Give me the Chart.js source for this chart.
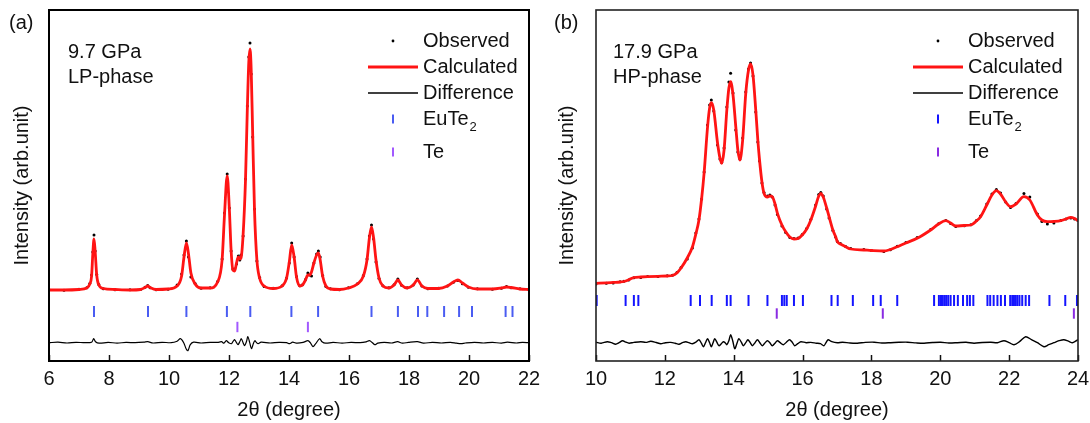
<!DOCTYPE html>
<html>
<head>
<meta charset="utf-8">
<title>EuTe2 Rietveld refinement</title>
<script src="https://cdn.jsdelivr.net/npm/chart.js@4.4.1/dist/chart.umd.min.js"></script>
<style>
  html, body { margin: 0; padding: 0; background: #fff; }
  .row { display: flex; width: 1090px; height: 423px; }
  .panel { width: 545px; height: 423px; }
</style>
</head>
<body>
<div class="row">
  <div class="panel"><canvas id="chartLP" width="545" height="423"></canvas></div>
  <div class="panel"><canvas id="chartHP" width="545" height="423"></canvas></div>
</div>
<script>
// ---- (a) 9.7 GPa, LP-phase ----
const twoThetaA = [
  6.00, 6.50, 7.00, 7.26, 7.36, 7.42, 7.46, 7.50, 7.54, 7.59,
  7.66, 7.81, 8.20, 8.70, 9.05, 9.20, 9.29, 9.37, 9.57, 9.97,
  10.27, 10.42, 10.50, 10.58, 10.65, 10.73, 10.87, 11.07, 11.37, 11.62,
  11.77, 11.85, 11.94, 12.01, 12.07, 12.13, 12.19, 12.25, 12.31, 12.36,
  12.40, 12.47, 12.55, 12.61, 12.66, 12.70, 12.74, 12.79, 12.85, 12.93,
  13.02, 13.17, 13.47, 13.77, 13.92, 14.01, 14.09, 14.17, 14.25, 14.36,
  14.45, 14.55, 14.63, 14.69, 14.75, 14.83, 14.92, 14.98, 15.04, 15.12,
  15.23, 15.38, 15.68, 15.98, 16.28, 16.48, 16.60, 16.68, 16.75, 16.82,
  16.90, 17.00, 17.13, 17.33, 17.50, 17.63, 17.75, 17.94, 18.14, 18.28,
  18.43, 18.63, 18.98, 19.28, 19.48, 19.63, 19.78, 19.98, 20.28, 20.78,
  21.08, 21.25, 21.40, 21.70, 22.00
];
const calcA = [
  0, 0, 0.5, 2, 6, 14, 36, 51, 38, 15,
  5, 1.5, 0.5, 0, 0.5, 2.5, 4, 2.5, 0.5, 1,
  4, 14, 33, 47, 36, 17, 6, 2, 2, 8,
  30, 75, 114, 82, 40, 20, 19, 27, 33, 31,
  32, 55, 110, 180, 228, 241, 220, 155, 80, 30,
  12, 4, 1.5, 4, 12, 28, 45, 33, 13, 4,
  5, 10, 15, 15, 18, 27, 35, 37, 30, 14,
  4, 1, 0.5, 2, 6, 14, 30, 52, 63, 52,
  30, 12, 4, 2, 5, 10, 5, 2, 5, 10,
  4, 1.5, 1.5, 4, 8, 10, 7, 3, 1, 1,
  2, 3, 2.5, 1, 0.5
];
const obsA = [
  0.3, -0.3, 0.8, 2.3, 6.5, 15, 38, 55, 39, 15.5,
  5.5, 1.3, 0.2, 0.3, 0.6, 2.8, 4.5, 2.3, 0.2, 0.8,
  5, 16, 35, 49, 33, 13, 6.5, 1.7, 2.3, 8.5,
  31, 77, 116, 82, 39, 21, 21, 26, 34, 30,
  35, 54, 111, 184, 233, 247, 216, 153, 81, 29,
  12.5, 3.5, 1.8, 4.2, 12, 27, 47, 33, 13.5, 4.2,
  5.3, 10.5, 17, 15, 14, 27, 36, 39, 33, 14.5,
  3.5, 1.3, 0.2, 2.3, 6.2, 14.5, 31, 54, 65, 51,
  28, 11.5, 4.2, 2.2, 5.3, 11, 4.8, 2.2, 5, 11,
  4, 1.2, 1.8, 4, 7.8, 9.5, 6.3, 2.8, 1.3, 0.8,
  1.8, 3.5, 2.3, 1.2, 0.6
];
const diffThetaA = [
  6.00, 6.30, 6.60, 6.90, 7.20, 7.42, 7.49, 7.55, 7.67, 7.97,
  8.27, 8.57, 8.87, 9.17, 9.29, 9.47, 9.77, 10.07, 10.27, 10.38,
  10.49, 10.57, 10.63, 10.71, 10.82, 11.07, 11.37, 11.62, 11.75, 11.83,
  11.91, 11.99, 12.08, 12.14, 12.19, 12.25, 12.30, 12.36, 12.41, 12.47,
  12.52, 12.58, 12.63, 12.69, 12.75, 12.81, 12.86, 12.92, 12.97, 13.07,
  13.37, 13.67, 13.92, 14.02, 14.12, 14.27, 14.47, 14.63, 14.71, 14.80,
  14.89, 15.02, 15.10, 15.22, 15.47, 15.77, 16.07, 16.37, 16.57, 16.68,
  16.78, 16.86, 16.96, 17.17, 17.42, 17.62, 17.78, 17.98, 18.28, 18.48,
  18.78, 19.08, 19.38, 19.58, 19.73, 19.88, 20.18, 20.48, 20.78, 21.08,
  21.28, 21.58, 21.78, 22.00
];
const diffA = [
  0, 0.5, -0.3, 0.4, 0, 0.5, 4, 1, -0.5, 0.3,
  -0.4, 0.3, 0, 0.5, 1, -0.3, 0.4, 0, 1.5, 4,
  0, -6, -8, -2, 0.5, -0.3, 0.4, 0.3, 1, -0.5,
  2, 0, -1, 1.5, 3, 0, -2, 1, 4, 0,
  -3, 1, 6, 0, -6, -1, 2, 0, -1, 0.5,
  -0.3, 0.4, 0, -1, 0.5, -0.5, 0.3, 2, 0, -4,
  -1, 4, 1, -0.5, 0.3, -0.4, 0.3, 0, 0.8, 2,
  0, -2, -0.5, 0.3, -0.3, 1, -0.5, 0.3, 1, -0.4,
  0.3, -0.3, 0.3, -0.5, -1, -0.3, 0.4, -0.3, 0.3, -0.4,
  0.5, -0.3, 0.4, 0
];
const euTe2PeaksA = [7.50, 9.30, 10.58, 11.93, 12.71, 14.08, 14.97, 16.75, 17.63, 18.30, 18.61, 19.17, 19.67, 20.10, 21.22, 21.45];
const tePeaksA = [12.28, 14.63];

// ---- (b) 17.9 GPa, HP-phase ----
const twoThetaB = [
  10.00, 10.30, 10.50, 10.70, 10.81, 10.95, 11.10, 11.30, 11.50, 11.80,
  12.07, 12.22, 12.35, 12.47, 12.65, 12.80, 12.90, 12.99, 13.07, 13.14,
  13.24, 13.30, 13.35, 13.42, 13.53, 13.60, 13.65, 13.72, 13.80, 13.86,
  13.91, 13.98, 14.06, 14.12, 14.18, 14.26, 14.35, 14.43, 14.49, 14.56,
  14.64, 14.70, 14.75, 14.82, 14.88, 14.98, 15.05, 15.12, 15.20, 15.27,
  15.40, 15.51, 15.63, 15.75, 15.87, 15.99, 16.12, 16.24, 16.38, 16.47,
  16.53, 16.60, 16.70, 16.77, 16.88, 16.96, 17.01, 17.10, 17.25, 17.40,
  17.78, 18.00, 18.36, 18.55, 18.75, 19.00, 19.33, 19.72, 19.95, 20.16,
  20.30, 20.45, 20.70, 20.89, 21.05, 21.17, 21.35, 21.50, 21.63, 21.75,
  21.90, 22.04, 22.20, 22.43, 22.60, 22.82, 22.95, 23.11, 23.30, 23.50,
  23.65, 23.79, 23.90, 24.00
];
const calcB = [
  6.7, 7.2, 7.6, 8.0, 8.5, 10.2, 12.5, 13.0, 13.3, 13.7,
  14.0, 14.5, 17, 22, 32, 43, 56, 70, 92, 117,
  163, 182, 187.3, 180, 147, 132, 126.7, 140, 180, 202,
  208.3, 195, 163.3, 140, 130, 150, 196.7, 220, 226, 215,
  180, 150, 130, 108, 96.7, 93, 94, 93.3, 86, 76.7,
  65, 58.3, 53, 51, 51.5, 55, 61, 70, 84, 94,
  96.7, 93, 82, 73.3, 60, 53.3, 48.3, 46, 43.3, 41,
  40, 39.5, 39, 40.5, 43.3, 47, 51.7, 60, 66, 69.3,
  67, 64, 64.5, 65, 69, 73.3, 85, 95, 99.3, 96,
  88, 83.3, 86, 93.3, 90, 75, 70, 68.3, 68.5, 69.3,
  71, 72.7, 71.5, 69.3
];
const obsB = [
  6.0, 6.8, 6.9, 8.3, 8.8, 10.0, 12.2, 12.6, 13.6, 13.5,
  14.3, 14.8, 17.5, 22.5, 31, 42, 57, 71, 91, 118,
  165, 185, 190, 179, 145, 131, 127.5, 142, 183, 208,
  216.7, 197, 160, 138, 131, 152, 198, 221, 227, 214,
  178, 148, 129, 107, 97.5, 94, 95, 93, 85, 75.5,
  64, 57.5, 52.5, 51.5, 52, 55.5, 61.5, 70.5, 85, 95.5,
  97.5, 94, 81, 72, 59.5, 53, 48.5, 46.5, 43.5, 41.5,
  40.5, 39.5, 38.5, 40.3, 43.8, 47.5, 52.5, 60.5, 66.3, 69.5,
  66.5, 63.5, 64.3, 65.3, 69.5, 74, 86, 96, 100.5, 97,
  88, 82.5, 86.5, 96.5, 93, 76, 68.5, 66, 67, 69.5,
  71, 72, 71, 69.5
];
const diffThetaB = [
  10.00, 10.15, 10.33, 10.45, 10.57, 10.67, 10.77, 10.87, 10.96, 11.10,
  11.30, 11.45, 11.59, 11.75, 11.88, 12.02, 12.17, 12.30, 12.41, 12.51,
  12.61, 12.70, 12.80, 12.90, 12.99, 13.06, 13.12, 13.18, 13.24, 13.30,
  13.35, 13.40, 13.45, 13.51, 13.57, 13.64, 13.70, 13.75, 13.80, 13.86,
  13.91, 13.97, 14.03, 14.09, 14.15, 14.22, 14.28, 14.35, 14.41, 14.48,
  14.54, 14.62, 14.69, 14.76, 14.83, 14.90, 14.98, 15.05, 15.12, 15.20,
  15.27, 15.35, 15.44, 15.53, 15.62, 15.70, 15.77, 15.86, 15.95, 16.10,
  16.24, 16.40, 16.52, 16.62, 16.68, 16.74, 16.85, 17.01, 17.16, 17.38,
  17.59, 17.82, 18.08, 18.30, 18.56, 18.80, 19.05, 19.30, 19.53, 19.78,
  20.01, 20.25, 20.50, 20.75, 20.98, 21.22, 21.47, 21.66, 21.85, 22.00,
  22.14, 22.30, 22.48, 22.65, 22.82, 23.01, 23.15, 23.30, 23.45, 23.59,
  23.72, 23.84, 23.93, 24.00
];
const diffB = [
  0.5, -0.5, 1, 0, -1.5, 0, 2, 0.5, -0.5, 0.3,
  1, 0.3, 1.5, 0.2, -1, 0, 0.3, -0.5, -1.5, 0,
  1, 0, -1, 0.5, 3, -0.5, -4, 0, 4, 0,
  -4, 0, 4, 0.5, -3, -1, 1, 0, -2, 2,
  8, 2, -6, -1, 4, 0.5, -3, 0, 3, 0,
  -3, 0, 3, 0, -3, -0.5, 2, 0, -3, -0.5,
  2, 0, -2, 0.5, 3, 0.5, -3, -1, 1, 0,
  0.3, -0.5, -1, -3, 0, 3, 1, 0, 0.5, -0.3,
  -0.5, 0.3, 0.5, -0.3, 0, 0.4, 0.5, -0.2, -0.5, 0.2,
  0.5, -0.3, 0, 0.4, -0.5, 0.2, 0.5, 0, 2, 0,
  -2, 1, 6, 3, 0, -4, -2, 0, 2, 3,
  1.5, 0, 1.5, 3
];
const euTe2PeaksB = [
  10.02, 10.86, 11.10, 11.23, 12.75, 13.02, 13.36, 13.80, 13.91, 14.43,
  14.98, 15.40, 15.47, 15.54, 15.75, 16.01, 16.84, 17.02, 17.46, 18.05,
  18.27, 18.75, 19.82, 19.96, 20.02, 20.07, 20.12, 20.17, 20.23, 20.30,
  20.40, 20.51, 20.66, 20.78, 20.86, 20.96, 21.37, 21.45, 21.55, 21.66,
  21.76, 21.88, 22.03, 22.09, 22.14, 22.19, 22.24, 22.30, 22.38, 22.48,
  22.58, 23.17, 23.63, 23.97
];
const tePeaksB = [15.25, 18.33, 23.88];

// difference curve sits below the reflection markers
const DIFF_OFFSET = -52.7;
const FONT = '"Liberation Sans", Arial, Helvetica, sans-serif';

Chart.defaults.font.family = FONT;
Chart.defaults.color = '#111';

function toPoints(xs, ys, offset = 0) {
  const n = Math.min(xs.length, ys.length);
  const out = [];
  for (let i = 0; i < n; i++) out.push({ x: xs[i], y: ys[i] + offset });
  return out;
}

function markerRow(xs, y) {
  return xs.map(x => ({ x: x, y: y }));
}

// frame, inward ticks, legend and labels drawn on top of the plot
const panelDecor = {
  id: 'panelDecor',
  afterDraw(chart, args, opts) {
    const { ctx, chartArea: a } = chart;
    const xScale = chart.scales.x;
    ctx.save();

    // inward ticks on the bottom axis
    ctx.strokeStyle = '#111';
    ctx.lineWidth = 1.5;
    xScale.ticks.forEach(t => {
      const px = Math.round(xScale.getPixelForValue(t.value)) + 0.5;
      ctx.beginPath();
      ctx.moveTo(px, a.bottom);
      ctx.lineTo(px, a.bottom - 6);
      ctx.stroke();
    });

    // box around the plot area
    ctx.lineWidth = opts.frameWidth;
    ctx.strokeStyle = opts.frameColor;
    ctx.strokeRect(a.left, a.top, a.right - a.left, a.bottom - a.top);

    ctx.fillStyle = '#111';
    ctx.textBaseline = 'middle';
    ctx.textAlign = 'left';
    ctx.font = `20px ${FONT}`;
    ctx.fillText(opts.letter, 9, 23);
    ctx.fillText(opts.pressure, 68, 52);
    ctx.fillText(opts.phase, 68, 77);

    // legend
    const symX = 393, textX = 423;
    const rows = [41, 67, 93, 119, 152];

    ctx.fillStyle = '#000';
    ctx.beginPath();
    ctx.arc(symX, rows[0], 1.4, 0, Math.PI * 2);
    ctx.fill();

    ctx.lineWidth = 2.8;
    ctx.strokeStyle = '#ff1414';
    ctx.beginPath();
    ctx.moveTo(368, rows[1]);
    ctx.lineTo(418, rows[1]);
    ctx.stroke();

    ctx.lineWidth = 1.3;
    ctx.strokeStyle = '#000';
    ctx.beginPath();
    ctx.moveTo(368, rows[2]);
    ctx.lineTo(418, rows[2]);
    ctx.stroke();

    ctx.lineWidth = 2;
    ctx.strokeStyle = opts.euColor;
    ctx.beginPath();
    ctx.moveTo(symX, rows[3] - 4.5);
    ctx.lineTo(symX, rows[3] + 4.5);
    ctx.stroke();

    ctx.strokeStyle = opts.teColor;
    ctx.beginPath();
    ctx.moveTo(symX, rows[4] - 4.5);
    ctx.lineTo(symX, rows[4] + 4.5);
    ctx.stroke();

    ctx.fillStyle = '#111';
    ctx.font = `20px ${FONT}`;
    ctx.fillText('Observed', textX, rows[0]);
    ctx.fillText('Calculated', textX, rows[1]);
    ctx.fillText('Difference', textX, rows[2]);
    ctx.fillText('EuTe', textX, rows[3]);
    const w = ctx.measureText('EuTe').width;
    ctx.fillText('Te', textX, rows[4]);
    ctx.font = `13px ${FONT}`;
    ctx.fillText('2', textX + w + 1, rows[3] + 8);

    ctx.restore();
  }
};

function makePanel(canvasId, cfg) {
  const ctx = document.getElementById(canvasId);
  return new Chart(ctx, {
    type: 'line',
    data: {
      datasets: [
        {
          label: 'Calculated',
          data: toPoints(cfg.theta, cfg.calc),
          borderColor: '#ff1414',
          borderWidth: 2.8,
          pointRadius: 0,
          cubicInterpolationMode: 'monotone',
          order: 0
        },
        {
          label: 'Observed',
          data: toPoints(cfg.theta, cfg.obs),
          showLine: false,
          pointRadius: 1.5,
          pointBackgroundColor: '#000',
          pointBorderWidth: 0,
          order: 1
        },
        {
          label: 'Difference',
          data: toPoints(cfg.diffTheta, cfg.diff, DIFF_OFFSET),
          borderColor: '#000',
          borderWidth: cfg.diffWidth,
          pointRadius: 0,
          tension: 0.3,
          order: 2
        },
        {
          label: 'EuTe2',
          data: markerRow(cfg.euTe2, cfg.euRow),
          showLine: false,
          pointStyle: 'line',
          pointRotation: 90,
          pointRadius: 5.5,
          pointBorderWidth: 2,
          pointBorderColor: cfg.euColor,
          borderColor: cfg.euColor,
          order: 3
        },
        {
          label: 'Te',
          data: markerRow(cfg.te, cfg.teRow),
          showLine: false,
          pointStyle: 'line',
          pointRotation: 90,
          pointRadius: 5.2,
          pointBorderWidth: 2,
          pointBorderColor: cfg.teColor,
          borderColor: cfg.teColor,
          order: 4
        }
      ]
    },
    options: {
      responsive: false,
      animation: false,
      layout: { padding: { top: 10, right: cfg.padRight, left: 0, bottom: 0 } },
      plugins: {
        legend: { display: false },
        tooltip: { enabled: false },
        panelDecor: {
          letter: cfg.letter,
          pressure: cfg.pressure,
          phase: cfg.phase,
          euColor: cfg.euColor,
          teColor: cfg.teColor,
          frameColor: cfg.frameColor,
          frameWidth: cfg.frameWidth
        }
      },
      scales: {
        x: {
          type: 'linear',
          min: cfg.xMin,
          max: cfg.xMax,
          ticks: { stepSize: 2, padding: 6, color: '#111', font: { size: 20, lineHeight: 1.2 } },
          grid: { display: false, drawTicks: false },
          border: { display: false },
          title: {
            display: true,
            text: '2θ (degree)',
            color: '#111',
            font: { size: 20, lineHeight: 1.2 },
            padding: { top: 0, bottom: 1 }
          },
          afterFit: (scale) => {
            scale.height = 62;
            scale.paddingLeft = 0;
            scale.paddingRight = 0;
          }
        },
        y: {
          min: -71,
          max: 280,
          ticks: { display: false },
          grid: { display: false, drawTicks: false },
          border: { display: false },
          title: {
            display: true,
            text: 'Intensity (arb.unit)',
            color: '#111',
            font: { size: 20, lineHeight: 1.2 },
            padding: { top: 10, bottom: 0 }
          },
          afterFit: (scale) => { scale.width = cfg.axisWidth; }
        }
      }
    },
    plugins: [panelDecor]
  });
}

makePanel('chartLP', {
  theta: twoThetaA, calc: calcA, obs: obsA,
  diffTheta: diffThetaA, diff: diffA, diffWidth: 1.2,
  euTe2: euTe2PeaksA, te: tePeaksA,
  euRow: -21.5, teRow: -37,
  euColor: '#4a5cf2', teColor: '#a259ff',
  xMin: 6, xMax: 22,
  axisWidth: 49, padRight: 16,
  frameColor: '#000', frameWidth: 2,
  letter: '(a)', pressure: '9.7 GPa', phase: 'LP-phase'
});

makePanel('chartHP', {
  theta: twoThetaB, calc: calcB, obs: obsB,
  diffTheta: diffThetaB, diff: diffB, diffWidth: 1.4,
  euTe2: euTe2PeaksB, te: tePeaksB,
  euRow: -10.5, teRow: -23.5,
  euColor: '#1414ff', teColor: '#8a2be2',
  xMin: 10, xMax: 24,
  axisWidth: 51, padRight: 12,
  frameColor: '#222', frameWidth: 1.6,
  letter: '(b)', pressure: '17.9 GPa', phase: 'HP-phase'
});
</script>
</body>
</html>
